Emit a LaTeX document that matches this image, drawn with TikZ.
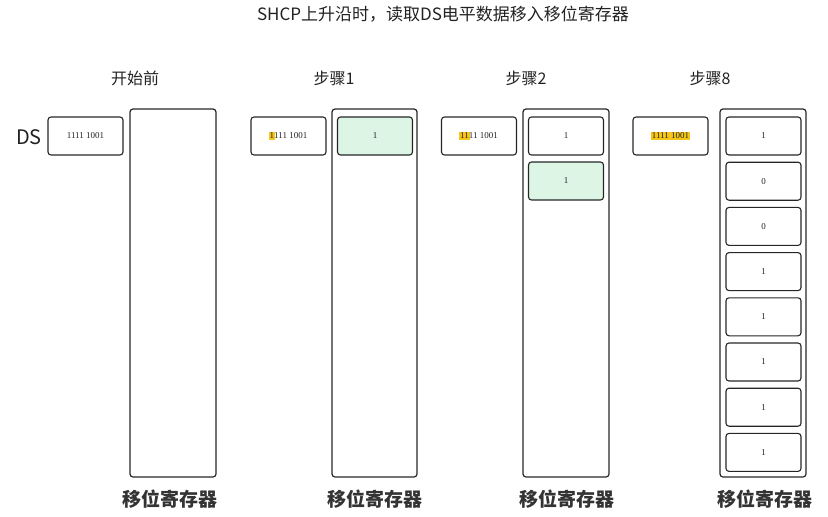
\documentclass[tikz,border=0pt]{standalone}
\usepackage{fontspec}
\setmainfont{Noto Sans CJK SC}
\newfontfamily\digitfont{Liberation Serif}
\definecolor{hly}{HTML}{F5C518}
\definecolor{cellgreen}{HTML}{DDF5E5}
\definecolor{txt}{HTML}{222222}
\newcommand{\hlbits}[1]{{\setlength{\fboxsep}{0.9pt}\kern-0.9pt\colorbox{hly}{#1}\kern-0.9pt}}
\tikzset{
  dsbox/.style={draw=black!85, line width=1.1pt, rounded corners=3pt, minimum width=75pt, minimum height=38pt, inner sep=0pt, font=\digitfont\fontsize{9}{10}\selectfont, text=txt},
  regbox/.style={draw=black!85, line width=1.2pt, rounded corners=3pt},
  cellbox/.style={draw=black!85, line width=1.1pt, rounded corners=3pt, minimum width=75pt, minimum height=38pt, inner sep=0pt, font=\digitfont\fontsize{9}{10}\selectfont, text=txt},
  newcell/.style={cellbox, fill=cellgreen},
  collabel/.style={font=\fontsize{16}{18}\selectfont, text=txt},
  reglabel/.style={font=\bfseries\fontsize{19}{21}\selectfont, text=black!80},
}
\begin{document}
\begin{tikzpicture}[x=1pt,y=-1pt]
\useasboundingbox (0,0) rectangle (828,517);
\node[font=\fontsize{17}{19}\selectfont, text=txt] (title) at (443,14) {SHCP上升沿时，读取DS电平数据移入移位寄存器};
\node[font=\fontsize{20}{22}\selectfont, text=txt] (ds) at (29,137) {DS};
% column labels
\node[collabel] (l0) at (135,78) {开始前};
\node[collabel] (l1) at (334,78) {步骤1};
\node[collabel] (l2) at (526,78) {步骤2};
\node[collabel] (l3) at (710,78) {步骤8};
% DS boxes
\node[dsbox] (d0) at (85.5,136) {1111 1001};
\node[dsbox] (d1) at (288.5,136) {\hlbits{1}111 1001};
\node[dsbox] (d2) at (479,136) {\hlbits{11}11 1001};
\node[dsbox] (d3) at (670.5,136) {\hlbits{1111 1001}};
% registers
\draw[regbox] (130,109) rectangle (216,477);
\draw[regbox] (332,109) rectangle (417,477);
\draw[regbox] (523,109) rectangle (609,477);
\draw[regbox] (720,109) rectangle (806,477);
% step 1
\node[newcell] (c1a) at (375,136) {1};
% step 2
\node[cellbox] (c2a) at (566,136) {1};
\node[newcell] (c2b) at (566,181) {1};
% step 8
\foreach \v [count=\i from 0] in {1,0,0,1,1,1,1,1} {
  \node[cellbox] (c3\i) at (763.5,136+45.2*\i) {\v};
}
% bottom labels
\node[reglabel] (r0) at (170,499) {移位寄存器};
\node[reglabel] (r1) at (375,499) {移位寄存器};
\node[reglabel] (r2) at (567,499) {移位寄存器};
\node[reglabel] (r3) at (765,499) {移位寄存器};
\end{tikzpicture}
\end{document}
